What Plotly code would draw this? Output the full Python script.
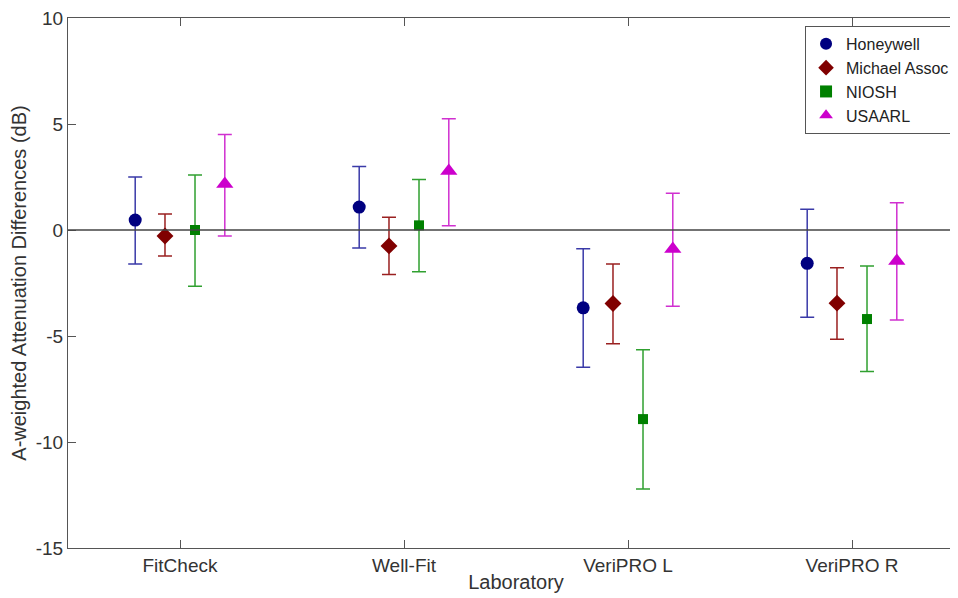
"""A-weighted attenuation differences by laboratory and fit-check system."""

import plotly.graph_objects as go

systems = ['FitCheck', 'Well-Fit', 'VeriPRO L', 'VeriPRO R']
labs = ['Honeywell', 'Michael Assoc', 'NIOSH', 'USAARL']

# mean, upper and lower limits for each lab, ordered like systems
honeywell_mean = [0.47, 1.08, -3.67, -1.57]
honeywell_hi = [2.5, 3.0, -0.88, 0.98]
honeywell_lo = [-1.6, -0.85, -6.47, -4.12]

michael_mean = [-0.28, -0.75, -3.47, -3.45]
michael_hi = [0.75, 0.6, -1.6, -1.78]
michael_lo = [-1.23, -2.1, -5.37, -5.15]

niosh_mean = [0.0, 0.22, -8.92, -4.2]
niosh_hi = [2.6, 2.38, -5.65, -1.7]
niosh_lo = [-2.65, -1.97, -12.22, -6.67]

usaarl_mean = [2.17, 2.78, -0.9, -1.46]
usaarl_hi = [4.5, 5.25, 1.73, 1.28]
usaarl_lo = [-0.28, 0.2, -3.6, -4.25]

y_ticks = [-15, -10, -5, 0, 5, 10]
y_tick_text = ['-15', '-10', '-5', '0', '5', '10']

series = [
    ('Honeywell', honeywell_mean, honeywell_hi, honeywell_lo,
     -0.2, 'circle', 13, '#000080', '#3a3aa8'),
    ('Michael Assoc', michael_mean, michael_hi, michael_lo,
     -0.067, 'diamond', 13, '#800000', '#9a2020'),
    ('NIOSH', niosh_mean, niosh_hi, niosh_lo,
     0.067, 'square', 10, '#008000', '#30a030'),
    ('USAARL', usaarl_mean, usaarl_hi, usaarl_lo,
     0.2, 'triangle-up', 15, '#cc00cc', '#d030d0'),
]

fig = go.Figure()

# zero reference line
fig.add_hline(y=0, line=dict(color='#444444', width=1.5))

for name, mean, hi, lo, offset, symbol, size, color, bar_color in series:
    xs = [i + 1 + offset for i in range(len(systems))]
    fig.add_trace(go.Scatter(
        x=xs,
        y=mean,
        mode='markers',
        name=name,
        marker=dict(symbol=symbol, size=size, color=color,
                    line=dict(width=0)),
        error_y=dict(
            type='data',
            symmetric=False,
            array=[h - m for h, m in zip(hi, mean)],
            arrayminus=[m - l for m, l in zip(mean, lo)],
            color=bar_color,
            thickness=1.5,
            width=7,
        ),
    ))

axis_common = dict(
    showline=True,
    linecolor='#555555',
    linewidth=1.2,
    mirror='ticks',
    ticks='inside',
    ticklen=8,
    tickcolor='#555555',
    showgrid=False,
    zeroline=False,
    automargin=False,
    ticklabeloverflow='allow',
    tickfont=dict(size=19, color='#333333'),
)

# the page body adds 8px on the left/top; the right border runs just
# past the window edge like in the original picture
fig.update_layout(
    width=956,
    height=590,
    margin=dict(l=60, r=0, t=10, b=50),
    paper_bgcolor='white',
    plot_bgcolor='white',
    font=dict(family='Liberation Sans, Arial, sans-serif', color='#333333'),
    xaxis=dict(
        range=[0.5, 4.5],
        tickvals=[1, 2, 3, 4],
        ticktext=systems,
        title=dict(text='Laboratory', font=dict(size=20), standoff=0),
        **axis_common,
    ),
    yaxis=dict(
        range=[-15, 10],
        tickvals=y_ticks,
        ticktext=y_tick_text,
        title=dict(text='A-weighted Attenuation Differences (dB)',
                   font=dict(size=20), standoff=4),
        **axis_common,
    ),
    legend=dict(
        x=0.99, y=0.985, xanchor='right', yanchor='top',
        bgcolor='white', bordercolor='#555555', borderwidth=1,
        font=dict(size=16, color='#222222'),
        tracegroupgap=0, itemsizing='constant', itemwidth=30,
    ),
    showlegend=True,
)

fig.write_html("out.html")
